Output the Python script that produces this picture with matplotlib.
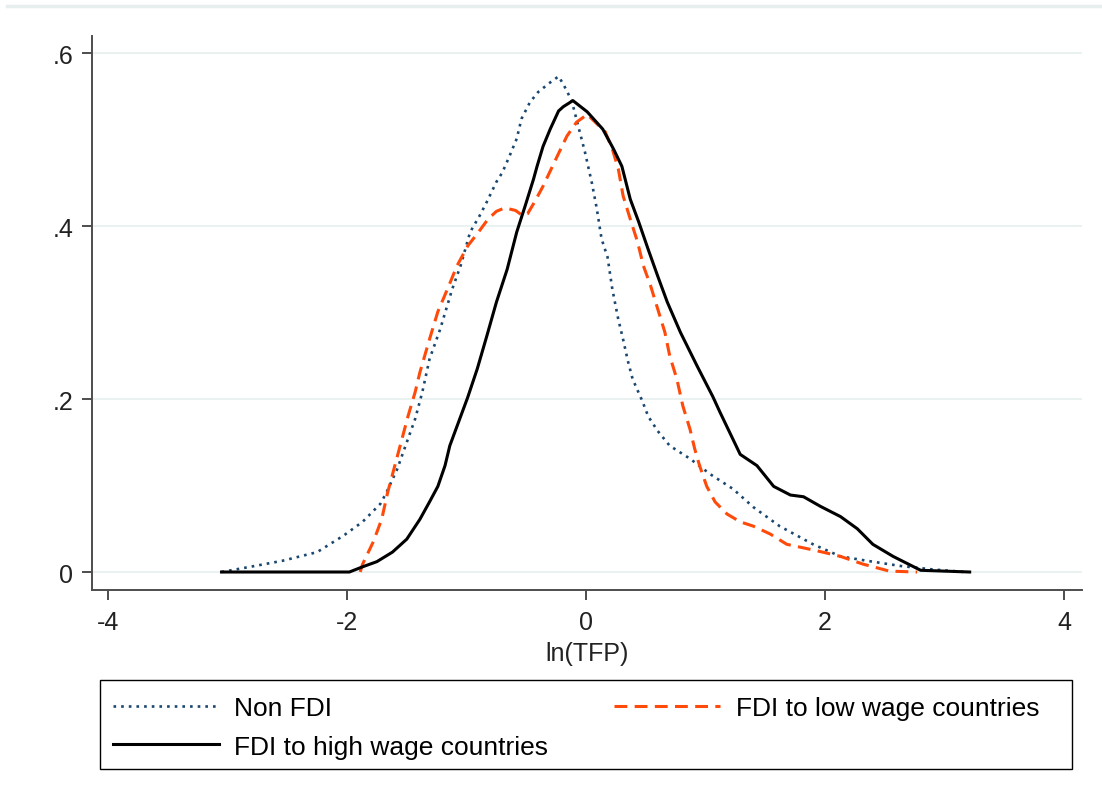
import matplotlib
matplotlib.use("Agg")
import matplotlib.pyplot as plt
from matplotlib.lines import Line2D
from matplotlib.patches import Rectangle

plt.rcParams['font.family'] = ['Liberation Sans', 'DejaVu Sans']

# kernel density of ln(TFP)
non_x = [-3.05, -2.81, -2.54, -2.25, -2.03, -1.87, -1.72, -1.67, -1.58, -1.50, -1.43,
         -1.37, -1.31, -1.22, -1.12, -1.05, -0.97, -0.89, -0.83, -0.75, -0.70, -0.64,
         -0.58, -0.54, -0.47, -0.40, -0.30, -0.23, -0.19, -0.12, -0.07, -0.01, 0.05,
         0.09, 0.13, 0.18, 0.22, 0.27, 0.31, 0.35, 0.39, 0.47, 0.52, 0.60, 0.70, 0.87,
         1.04, 1.23, 1.40, 1.62, 1.90, 2.13, 2.35, 2.63, 2.90, 3.17]
non_y = [0.000, 0.006, 0.013, 0.023, 0.042, 0.058, 0.079, 0.092, 0.119, 0.150, 0.177,
         0.208, 0.246, 0.281, 0.327, 0.354, 0.393, 0.412, 0.428, 0.451, 0.462, 0.481,
         0.501, 0.524, 0.543, 0.555, 0.566, 0.573, 0.564, 0.545, 0.518, 0.486, 0.449,
         0.420, 0.385, 0.364, 0.327, 0.292, 0.269, 0.244, 0.223, 0.198, 0.180, 0.163,
         0.146, 0.131, 0.113, 0.096, 0.075, 0.053, 0.032, 0.018, 0.013, 0.007, 0.003,
         0.000]

low_x = [-1.89, -1.87, -1.78, -1.71, -1.66, -1.60, -1.54, -1.49, -1.43, -1.39, -1.31,
         -1.24, -1.16, -1.08, -0.99, -0.90, -0.82, -0.75, -0.68, -0.59, -0.53, -0.49,
         -0.43, -0.36, -0.24, -0.16, -0.08, 0.01, 0.16, 0.22, 0.27, 0.31, 0.37, 0.43,
         0.48, 0.54, 0.60, 0.66, 0.70, 0.76, 0.81, 0.87, 0.91, 0.95, 1.01, 1.08, 1.18,
         1.29, 1.40, 1.54, 1.68, 1.85, 1.98, 2.13, 2.32, 2.54, 2.77]
low_y = [0.000, 0.009, 0.035, 0.061, 0.092, 0.123, 0.154, 0.180, 0.208, 0.231, 0.269,
         0.301, 0.327, 0.354, 0.377, 0.393, 0.408, 0.417, 0.421, 0.418, 0.412, 0.414,
         0.428, 0.446, 0.481, 0.504, 0.520, 0.529, 0.509, 0.489, 0.466, 0.435, 0.408,
         0.382, 0.354, 0.331, 0.304, 0.277, 0.250, 0.223, 0.192, 0.165, 0.142, 0.123,
         0.099, 0.081, 0.067, 0.058, 0.053, 0.044, 0.032, 0.027, 0.023, 0.018, 0.009,
         0.001, 0.000]

high_x = [-3.05, -1.98, -1.87, -1.75, -1.62, -1.50, -1.39, -1.31, -1.24, -1.18, -1.14,
          -0.99, -0.91, -0.83, -0.75, -0.66, -0.58, -0.51, -0.44, -0.41, -0.36, -0.30,
          -0.23, -0.19, -0.11, 0.01, 0.14, 0.23, 0.30, 0.37, 0.44, 0.52, 0.60, 0.68,
          0.79, 0.93, 1.06, 1.12, 1.29, 1.43, 1.57, 1.71, 1.82, 1.96, 2.13, 2.27, 2.40,
          2.57, 2.80, 3.21]
high_y = [0.000, 0.000, 0.006, 0.012, 0.023, 0.038, 0.061, 0.081, 0.099, 0.123, 0.146,
          0.202, 0.235, 0.273, 0.312, 0.350, 0.393, 0.423, 0.454, 0.469, 0.492, 0.512,
          0.533, 0.538, 0.545, 0.532, 0.512, 0.489, 0.469, 0.431, 0.405, 0.373, 0.342,
          0.312, 0.277, 0.238, 0.203, 0.185, 0.136, 0.123, 0.099, 0.089, 0.087, 0.076,
          0.064, 0.050, 0.032, 0.018, 0.002, 0.000]

labels = ['Non FDI', 'FDI to high wage countries', 'FDI to low wage countries']
xticks = [-4, -2, 0, 2, 4]
yticks = [0, 0.2, 0.4, 0.6]
yticklabels = ['0', '.2', '.4', '.6']

navy = '#1a476f'
orange = '#ff4a0a'
axcol = '#4d4d4d'
W, H = 1102, 803

fig = plt.figure(figsize=(11.02, 8.03), dpi=100)
ax = fig.add_axes([92/W, 212/H, 990/W, 554/H])

# thin band at the very top of the image
fig.add_artist(Line2D([7/W, 1], [1 - 7/H, 1 - 7/H], color='#e6eeee', lw=2.5))

for y in yticks:
    ax.axhline(y, color='#e8f0f0', lw=1.3, zorder=0)

l1, = ax.plot(non_x, non_y, color=navy, lw=1.9, dashes=(1.0, 1.9))
l3, = ax.plot(low_x, low_y, color=orange, lw=2.2, dashes=(4.2, 2.4))
l2, = ax.plot(high_x, high_y, color='black', lw=2.2)

ax.set_xlim(-4.134, 4.15)
ax.set_ylim(-0.0208, 0.6197)
ax.set_xticks(xticks)
ax.set_xticklabels([str(t) for t in xticks])
ax.set_yticks(yticks)
ax.set_yticklabels(yticklabels)

for s in ['top', 'right']:
    ax.spines[s].set_visible(False)
for s in ['left', 'bottom']:
    ax.spines[s].set_color(axcol)
    ax.spines[s].set_linewidth(1.4)
ax.tick_params(axis='both', colors=axcol, labelcolor='#222222', labelsize=18,
               length=7.5, width=1.4, direction='out')
ax.tick_params(axis='x', pad=7)
ax.tick_params(axis='y', pad=6)
ax.set_xlabel('ln(TFP)', fontsize=18, color='#222222', labelpad=5)

# legend box spans the plot width, as in the Stata graph
fig.add_artist(Rectangle((100/W, 1 - 770/H), 972/W, 89/H, transform=fig.transFigure,
                         fill=False, edgecolor='black', lw=1.0))
leg = fig.legend([l1, l2, l3], labels, ncol=2, loc='upper left',
                 bbox_to_anchor=(113/W, 1 - 697/H), fontsize=19,
                 frameon=False, handlelength=4.0, handletextpad=0.6,
                 columnspacing=2.5, borderpad=0, labelspacing=0.55, borderaxespad=0)

fig.savefig('out.png', dpi=100)
